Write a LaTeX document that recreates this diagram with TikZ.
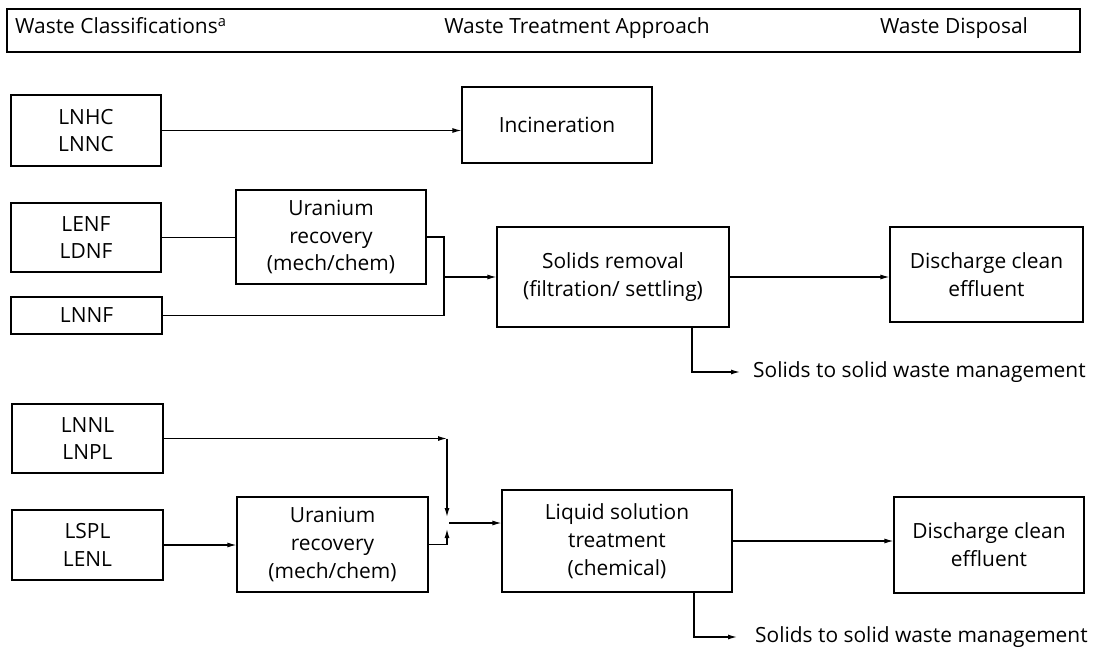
\documentclass[tikz,border=0pt]{standalone}
\usepackage{fontspec}
\setmainfont{Open Sans}
\usetikzlibrary{arrows.meta}
\begin{document}
\begin{tikzpicture}[x=1bp,y=-1bp,
  every node/.style={font=\fontsize{21}{28}\selectfont},
  wbox/.style={draw,line width=1.2bp,align=center,inner sep=0pt},
  link/.style={line width=1.2bp},
  flow/.style={line width=1.2bp,-{Latex[length=9bp,width=5bp]}},
  label/.style={anchor=west,inner sep=0pt}]
\useasboundingbox (0,0) rectangle (1101,649);

% column headings
\node[draw,line width=1.2bp,minimum width=1073bp,minimum height=43bp,inner sep=0pt] (hdr) at (543.5,30.5) {};
\node[anchor=base west,inner sep=0pt] (hc) at (15,34) {Waste Classifications\textsuperscript{a}};
\node[anchor=base,inner sep=0pt] (ht) at (577,34) {Waste Treatment Approach};
\node[anchor=base,inner sep=0pt] (hd) at (954,34) {Waste Disposal};

% combustible wastes
\node[wbox,minimum width=150bp,minimum height=71bp] (lnhc) at (86,130.5) {LNHC\\LNNC};
\node[wbox,minimum width=190bp,minimum height=76bp] (incin) at (557,125) {Incineration};
\draw[flow] (lnhc.east) -- (lnhc.east -| incin.west);

% filterable wastes
\node[wbox,minimum width=150bp,minimum height=69bp] (lenf) at (86,237.5) {LENF\\LDNF};
\node[wbox,minimum width=190bp,minimum height=94bp] (ur1) at (331,237) {Uranium\\recovery\\(mech/chem)};
\node[wbox,minimum width=151bp,minimum height=37bp] (lnnf) at (86.5,315.5) {LNNF};
\node[wbox,minimum width=232bp,minimum height=100bp] (solids) at (613,277) {Solids removal\\(filtration/ settling)};
\node[wbox,minimum width=193bp,minimum height=95bp] (dis1) at (986.5,274.5) {Discharge clean\\effluent};
\node[label] (st1) at (753,372) {Solids to solid waste management};
\coordinate (j1) at (444,277);
\coordinate (s1) at (692,372);

\draw[link] (lenf.east) -- (lenf.east -| ur1.west);
\draw[link] (ur1.east) -- (ur1.east -| j1) -- (j1 |- lnnf.east) -- (lnnf.east);
\draw[flow] (j1) -- (solids.west);
\draw[flow] (solids.east) -- (solids.east -| dis1.west);
\draw[flow] (solids.south -| s1) -- (s1) -- ([xshift=-13bp]st1.west);

% liquid wastes
\node[wbox,minimum width=151bp,minimum height=69bp] (lnnl) at (87.5,438.5) {LNNL\\LNPL};
\node[wbox,minimum width=151bp,minimum height=70bp] (lspl) at (87.5,545) {LSPL\\LENL};
\node[wbox,minimum width=191bp,minimum height=95bp] (ur2) at (332.5,544.5) {Uranium\\recovery\\(mech/chem)};
\node[wbox,minimum width=230bp,minimum height=102bp] (liquid) at (617,541) {Liquid solution\\treatment\\(chemical)};
\node[wbox,minimum width=190bp,minimum height=96bp] (dis2) at (989,545) {Discharge clean\\effluent};
\node[label] (st2) at (755,637) {Solids to solid waste management};
\coordinate (j3) at (447,523);
\coordinate (s2) at (694,637);

\draw[flow] (lnnl.east) -- (lnnl.east -| j3);
\draw[flow] (lnnl.east -| j3) -- ([yshift=6bp]j3);
\draw[flow] (lspl.east) -- (lspl.east -| ur2.west);
\draw[flow] (ur2.east) -- (ur2.east -| j3) -- ([yshift=-6bp]j3);
\draw[flow] ([xshift=2bp]j3) -- (liquid.west |- j3);
\draw[flow] (liquid.east) -- (liquid.east -| dis2.west);
\draw[flow] (liquid.south -| s2) -- (s2) -- ([xshift=-18bp]st2.west);
\end{tikzpicture}
\end{document}
